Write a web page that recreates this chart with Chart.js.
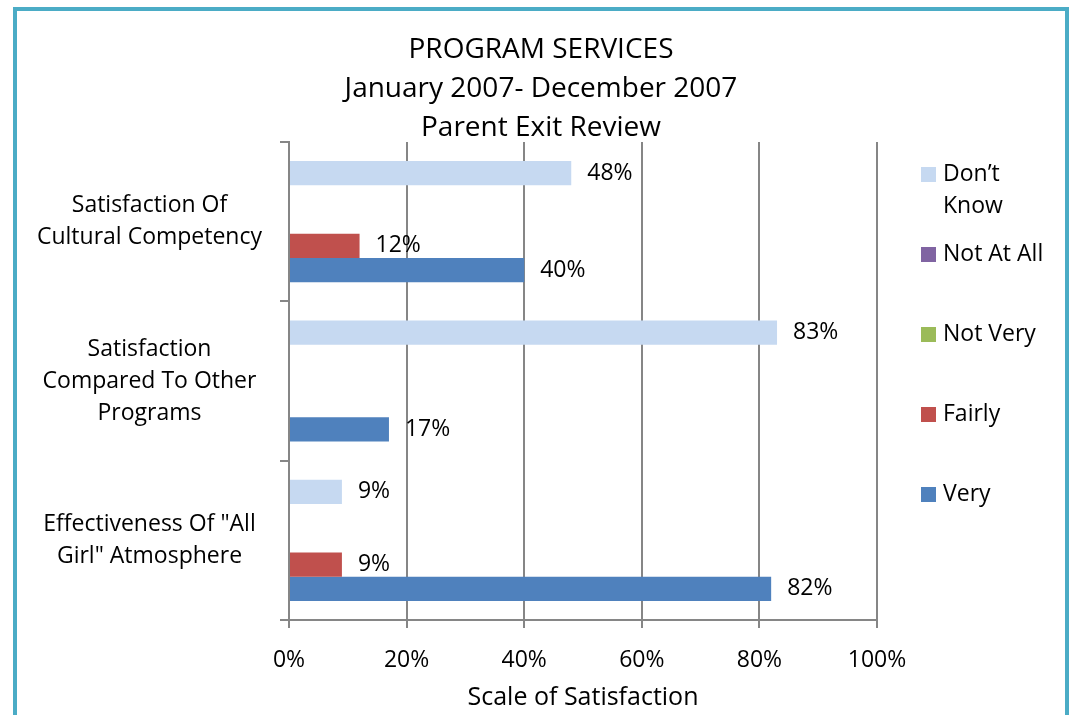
<!DOCTYPE html>
<html>
<head>
<meta charset="utf-8">
<title>Program Services - Parent Exit Review</title>
<script src="https://cdn.jsdelivr.net/npm/chart.js@4.4.1/dist/chart.umd.min.js"></script>
<style>
  html, body { margin: 0; padding: 0; background: #fff; overflow: hidden; }
  #frame {
    position: absolute; left: 13px; top: 7px;
    width: 1056px; height: 800px; box-sizing: border-box;
    border: 4px solid #4bacc6; border-bottom: none;
  }
  #chart { position: absolute; left: 11px; top: 0; }
</style>
</head>
<body>
<div id="frame"></div>
<canvas id="chart" width="1060" height="715"></canvas>
<script>
// categories, top to bottom
const categories = [
  ['Satisfaction Of', 'Cultural Competency'],
  ['Satisfaction', 'Compared To Other', 'Programs'],
  ['Effectiveness Of "All', 'Girl" Atmosphere']
];

// series, in legend order (top to bottom)
const seriesNames = ['Don’t Know', 'Not At All', 'Not Very', 'Fairly', 'Very'];
const legendText = [['Don’t', 'Know'], ['Not At All'], ['Not Very'], ['Fairly'], ['Very']];
const seriesColors = ['#c6d9f1', '#8064a2', '#9bbb59', '#c0504d', '#4f81bd'];

const dontKnow = [48, 83, 9];
const notAtAll = [0, 0, 0];
const notVery = [0, 0, 0];
const fairly = [12, 0, 9];
const very = [40, 17, 82];

const xTicks = [0, 20, 40, 60, 80, 100];

const FONT = '"Open Sans"';
const GRID = '#868686';

Chart.defaults.font.family = FONT;
Chart.defaults.color = '#000';

// percentage labels to the right of each non-zero bar
const barValues = {
  id: 'barValues',
  afterDatasetsDraw(chart) {
    const ctx = chart.ctx;
    ctx.save();
    ctx.font = '23px ' + FONT;
    ctx.fillStyle = '#000';
    ctx.textAlign = 'left';
    ctx.textBaseline = 'middle';
    chart.data.datasets.forEach((ds, i) => {
      chart.getDatasetMeta(i).data.forEach((bar, j) => {
        const v = ds.data[j];
        if (!v) return;
        ctx.fillText(v + '%', bar.x + 16, bar.y);
      });
    });
    ctx.restore();
  }
};

// legend kept in its own right-hand layout box so the title stays centred on the canvas
const sideLegend = {
  id: 'sideLegend',
  beforeInit(chart) {
    const box = {
      position: 'right',
      weight: 0,
      fullSize: false,
      options: {},
      isHorizontal() { return false; },
      update(maxWidth, maxHeight) {
        this.width = 194;
        this.height = maxHeight;
      },
      draw() {
        const ctx = chart.ctx;
        const top = chart.chartArea.top;
        ctx.save();
        ctx.font = '23px ' + FONT;
        ctx.textAlign = 'left';
        ctx.textBaseline = 'middle';
        chart.data.datasets.forEach((ds, i) => {
          const y = top + 32 + i * 80;
          ctx.fillStyle = ds.backgroundColor;
          ctx.fillRect(this.left + 44, y - 7, 15, 15);
          ctx.fillStyle = '#000';
          legendText[i].forEach((line, k) => ctx.fillText(line, this.left + 66, y + k * 32));
        });
        ctx.restore();
      }
    };
    Chart.layouts.addBox(chart, box);
  }
};

const series = [dontKnow, notAtAll, notVery, fairly, very];

new Chart(document.getElementById('chart'), {
  type: 'bar',
  data: {
    labels: categories,
    datasets: series.map((values, i) => ({
      label: seriesNames[i],
      data: values,
      backgroundColor: seriesColors[i],
      borderWidth: 0,
      categoryPercentage: 0.76,
      barPercentage: 1
    }))
  },
  options: {
    indexAxis: 'y',
    responsive: false,
    animation: false,
    layout: { padding: 0 },
    plugins: {
      legend: { display: false },
      tooltip: { enabled: false },
      title: {
        display: true,
        text: ['PROGRAM SERVICES', 'January 2007- December 2007', 'Parent Exit Review'],
        color: '#000',
        font: { size: 28, weight: 'normal', lineHeight: 39 / 28 },
        padding: { top: 31, bottom: -6 }
      }
    },
    scales: {
      x: {
        min: 0,
        max: 100,
        afterBuildTicks(scale) {
          scale.ticks = xTicks.map(v => ({ value: v }));
        },
        afterFit(scale) { scale.height = 95; },
        grid: { color: GRID, lineWidth: 2, tickLength: 8 },
        border: { color: GRID, width: 2 },
        ticks: {
          padding: 19,
          font: { size: 23 },
          callback: v => v + '%'
        },
        title: {
          display: true,
          text: 'Scale of Satisfaction',
          font: { size: 25 },
          padding: { top: 0, bottom: 2 }
        }
      },
      y: {
        afterFit(scale) { scale.width = 278; },
        grid: { drawOnChartArea: false, offset: true, color: GRID, lineWidth: 2, tickLength: 9 },
        border: { color: GRID, width: 2 },
        ticks: {
          crossAlign: 'center',
          padding: 18,
          font: { size: 23, lineHeight: 32 / 23 }
        }
      }
    }
  },
  plugins: [barValues, sideLegend]
});
</script>
</body>
</html>
